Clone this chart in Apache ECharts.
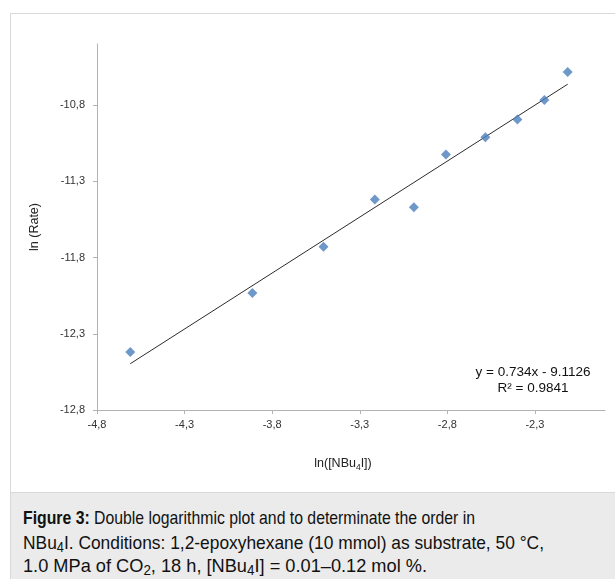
<!DOCTYPE html>
<html><head><meta charset="utf-8">
<script src="https://cdn.jsdelivr.net/npm/echarts@6/dist/echarts.min.js"></script>
<style>
html,body{margin:0;padding:0;background:#fff;width:615px;height:579px;overflow:hidden;}
#frame{position:absolute;left:10px;top:13px;width:640px;height:480px;border:1px solid #d9d9d9;box-sizing:border-box;}
#chart{position:absolute;left:0;top:0;width:615px;height:579px;}
#cap{position:absolute;left:10px;top:493px;width:605px;height:86px;background:#ebebeb;border-left:1px solid #d9d9d9;box-sizing:border-box;
 font-family:"Liberation Sans Narrow","Liberation Sans",Arial,sans-serif;font-size:19px;color:#111;}
#cap div{position:absolute;left:12px;white-space:nowrap;transform-origin:0 50%;}
#cap sub{font-size:14px;vertical-align:-3px;line-height:0;}
</style></head>
<body>
<div id="frame"></div>
<div id="chart"></div>
<div id="cap">
<div id="l1" style="top:14px"><b>Figure 3:</b> Double logarithmic plot and to determinate the order in</div>
<div id="l2" style="top:39px">NBu<sub>4</sub>I. Conditions: 1,2-epoxyhexane (10 mmol) as substrate, 50 °C,</div>
<div id="l3" style="top:62px">1.0 MPa of CO<sub>2</sub>, 18 h, [NBu<sub>4</sub>I] = 0.01–0.12 mol %.</div>
</div>
<script>
var lnConc = [-4.610, -3.913, -3.507, -3.214, -2.991, -2.808, -2.583, -2.400, -2.246, -2.113];
var lnRate = [-12.419, -12.033, -11.729, -11.420, -11.471, -11.125, -11.011, -10.895, -10.768, -10.584];
var slope = 0.734, intercept = -9.1126;
var xTicks = [-4.8, -4.3, -3.8, -3.3, -2.8, -2.3];
var yTicks = [-12.8, -12.3, -11.8, -11.3, -10.8];
var eqText = ['y = 0.734x - 9.1126', 'R² = 0.9841'];

var pts = lnConc.map(function(x,i){return [x, lnRate[i]];});
var x0 = Math.min.apply(null, lnConc), x1 = Math.max.apply(null, lnConc);
var trend = [[x0, slope*x0+intercept],[x1, slope*x1+intercept]];
function fmt(v){return v.toFixed(1).replace('.', ',');}

var chart = echarts.init(document.getElementById('chart'), null, {renderer:'canvas'});
var axisCommon = {
  axisLine:{show:true,lineStyle:{color:'#b3b3b3',width:1}},
  splitLine:{show:false},
  axisTick:{show:true,inside:false,length:4,lineStyle:{color:'#b3b3b3'}},
  axisLabel:{color:'#333',fontSize:11,fontFamily:'Liberation Sans, Arial',formatter:fmt}
};
chart.setOption({
  animation:false,
  grid:{left:97,top:44,width:508,height:366,containLabel:false},
  xAxis:echarts.util.merge({
    type:'value',min:-4.8,max:-1.9,interval:0.5,
    axisLabel:{customValues:xTicks,margin:9},
    axisTick:{customValues:xTicks},
    name:'{a|ln([NBu}{s|4}{a|I])}',nameLocation:'middle',nameGap:46,
    nameTextStyle:{padding:[0,16,0,0],rich:{
      a:{fontSize:12.5,fontFamily:'Liberation Sans, Arial',color:'#222',lineHeight:16,verticalAlign:'middle'},
      s:{fontSize:8.5,fontFamily:'Liberation Sans, Arial',color:'#222',lineHeight:16,verticalAlign:'bottom',padding:[6,0,0,0]}
    }}
  }, axisCommon, false),
  yAxis:echarts.util.merge({
    type:'value',min:-12.8,max:-10.4,interval:0.5,
    axisLabel:{customValues:yTicks,margin:12},
    axisTick:{customValues:yTicks},
    name:'ln (Rate)',nameLocation:'middle',nameGap:56,nameRotate:90,
    nameTextStyle:{fontSize:12.5,fontFamily:'Liberation Sans, Arial',color:'#222'}
  }, axisCommon, false),
  series:[
    {type:'line',data:trend,symbol:'none',silent:true,
     lineStyle:{color:'#2b2b2b',width:1},z:2},
    {type:'scatter',data:pts,symbol:'diamond',symbolSize:10,
     itemStyle:{color:'#4a7ebb'},z:3}
  ],
  graphic:[
    {type:'text',x:533,y:372,style:{text:eqText[0],fontSize:13.5,fontFamily:'Liberation Sans, Arial',fill:'#111',align:'center',verticalAlign:'middle'}},
    {type:'text',x:533,y:388,style:{text:eqText[1],fontSize:13.5,fontFamily:'Liberation Sans, Arial',fill:'#111',align:'center',verticalAlign:'middle'}}
  ]
});
var targets = {l1:452,l2:521,l3:404};
Object.keys(targets).forEach(function(id){
  var el=document.getElementById(id); var w=el.getBoundingClientRect().width;
  if(w>0) el.style.transform='scaleX('+(targets[id]/w)+')';
});
</script>
</body></html>
